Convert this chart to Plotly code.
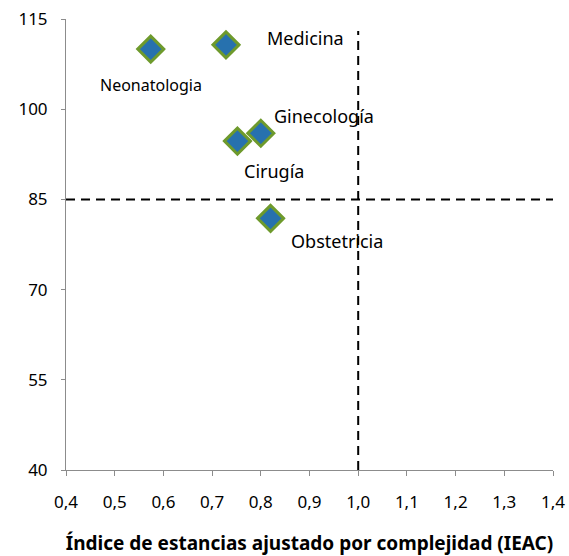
import plotly.graph_objects as go

# Datos
servicios = ["Neonatologia", "Medicina", "Ginecología", "Cirugía", "Obstetricia"]
ieac = [0.574, 0.7285, 0.800, 0.752, 0.820]
indicador = [110.0, 110.7, 96.0, 94.7, 81.85]

# desplazamiento de las etiquetas (px)
label_dx = [0, 39, 11, 5, 18]
label_dy = [-36, 7, 17, -30, -23]
label_anchor = ["center", "left", "left", "left", "left"]
label_size = [16, 18, 18, 18, 18]

ref_x = 1.0
ref_y = 85

x_ticks = [0.4, 0.5, 0.6, 0.7, 0.8, 0.9, 1.0, 1.1, 1.2, 1.3, 1.4]
y_ticks = [40, 55, 70, 85, 100, 115]

fig = go.Figure()

fig.add_trace(go.Scatter(
    x=[0.4, 1.4], y=[ref_y, ref_y], mode="lines",
    line=dict(color="black", width=2, dash="9px,6px"), hoverinfo="skip"
))
fig.add_trace(go.Scatter(
    x=[ref_x, ref_x], y=[40, 113], mode="lines",
    line=dict(color="black", width=2, dash="9px,6px"), hoverinfo="skip"
))
fig.add_trace(go.Scatter(
    x=ieac, y=indicador, mode="markers", text=servicios,
    marker=dict(symbol="diamond", size=20, color="#2771AE",
                line=dict(color="#6E9A2C", width=3)),
))

for s, x, y, dx, dy, anc, fs in zip(servicios, ieac, indicador, label_dx, label_dy, label_anchor, label_size):
    fig.add_annotation(x=x, y=y, text=s, showarrow=False, xanchor=anc, yanchor="middle",
                       xshift=dx, yshift=dy, font=dict(size=fs, color="black", family="Noto Sans"))

fig.update_layout(
    width=569, height=556,
    margin=dict(l=66, r=16, t=19, b=86),
    plot_bgcolor="white", paper_bgcolor="white",
    showlegend=False,
    separators=",.",
    font=dict(family="Noto Sans", color="black"),
)
fig.update_xaxes(
    range=[0.4, 1.4], tickvals=x_ticks, tickformat=".1f",
    showgrid=False, zeroline=False, automargin=False,
    showline=True, linecolor="#8c8c8c", linewidth=1,
    ticks="outside", ticklen=5, tickcolor="#8c8c8c",
    ticklabelstandoff=12, ticklabeloverflow="allow",
    tickfont=dict(size=17, family="Noto Sans"),
    title=dict(text="<b>Índice de estancias ajustado por complejidad (IEAC)</b>",
               font=dict(size=19, family="Noto Sans"), standoff=28),
)
fig.update_yaxes(
    range=[40, 115], tickvals=y_ticks,
    showgrid=False, zeroline=False, automargin=False,
    showline=True, linecolor="#8c8c8c", linewidth=1,
    ticks="outside", ticklen=4, tickcolor="#8c8c8c",
    ticklabelstandoff=10, ticklabeloverflow="allow",
    tickfont=dict(size=17, family="Noto Sans"),
)

# quitar el margen por defecto del body para que la figura ocupe toda la ventana
fig.write_html("out.html", config={"displayModeBar": False},
               post_script="document.body.style.margin='0px';")
